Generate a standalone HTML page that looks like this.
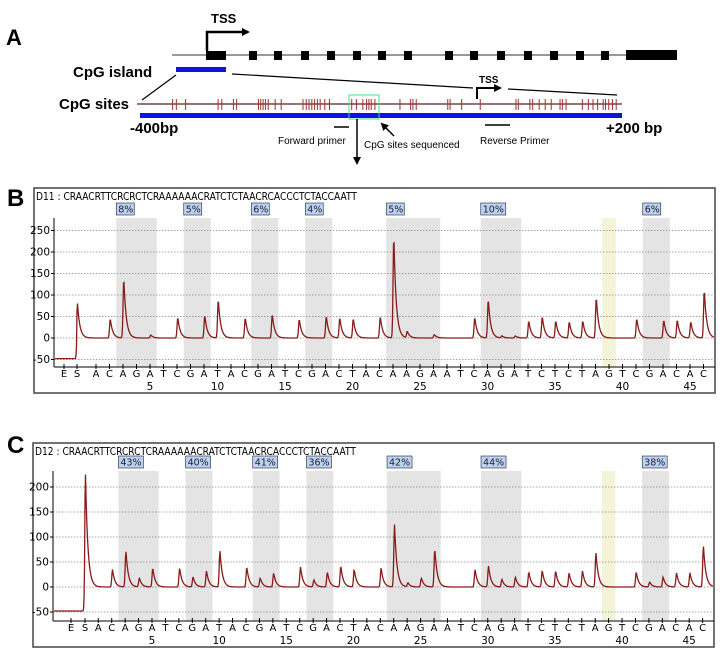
<!DOCTYPE html>
<html><head><meta charset="utf-8"><style>
body{margin:0;background:#fff;width:724px;height:652px;overflow:hidden}
svg{display:block}
</style></head><body>
<svg id="fig" width="724" height="652" viewBox="0 0 724 652" xmlns="http://www.w3.org/2000/svg" font-family="Liberation Sans, sans-serif">
<defs>
<marker id="ah" markerWidth="8" markerHeight="8" refX="6" refY="4" orient="auto" markerUnits="userSpaceOnUse"><path d="M0,0 L8,4 L0,8 z" fill="#000"/></marker>
</defs>
<g>
<text x="6" y="45" font-size="22" font-weight="bold">A</text>
<line x1="172" y1="55" x2="677" y2="55" stroke="#333" stroke-width="1"/>
<rect x="206" y="51" width="20" height="9" fill="#000"/>
<g id="exons"></g>
<rect x="626" y="50" width="51" height="10" fill="#000"/>
<polyline points="207,51 207,32 248,32" fill="none" stroke="#000" stroke-width="2.5" marker-end="url(#ah)"/>
<text x="211" y="23" font-size="13" font-weight="bold">TSS</text>
<text x="73" y="77" font-size="15" font-weight="bold">CpG island</text>
<rect x="176" y="67" width="50" height="5" fill="#1010e0"/>
<line x1="176" y1="75" x2="142" y2="100" stroke="#000" stroke-width="1.2"/>
<line x1="232" y1="74" x2="473" y2="88" stroke="#000" stroke-width="1.2"/>
<line x1="508" y1="89" x2="617" y2="95" stroke="#000" stroke-width="1.2"/>
<polyline points="477,99 477,88 500,88" fill="none" stroke="#000" stroke-width="2" marker-end="url(#ah)"/>
<text x="479" y="83" font-size="10" font-weight="bold">TSS</text>
<text x="59" y="109" font-size="15" font-weight="bold">CpG sites</text>
<line x1="137" y1="104" x2="622" y2="104" stroke="#5a2020" stroke-width="1.2"/>
<g id="sites"></g>
<rect x="140" y="113" width="482" height="5" fill="#1010e0"/>
<rect x="349" y="95" width="30" height="24" fill="none" stroke="#40e080" stroke-width="1"/>
<text x="130" y="133" font-size="15" font-weight="bold">-400bp</text>
<text x="606" y="133" font-size="15" font-weight="bold">+200 bp</text>
<line x1="334" y1="127" x2="349" y2="127" stroke="#000" stroke-width="1.5"/>
<line x1="485" y1="125" x2="510" y2="125" stroke="#000" stroke-width="1.5"/>
<text x="278" y="144" font-size="10">Forward primer</text>
<text x="364" y="148" font-size="10">CpG sites sequenced</text>
<text x="480" y="144" font-size="10">Reverse Primer</text>
<line x1="357" y1="119" x2="357" y2="163" stroke="#000" stroke-width="1.5" marker-end="url(#ah)"/>
<line x1="394" y1="136" x2="382" y2="124" stroke="#000" stroke-width="1.5" marker-end="url(#ah)"/>
</g>
<text x="7" y="206" font-size="24" font-weight="bold">B</text>
<text x="7" y="453" font-size="24" font-weight="bold">C</text>
<g id="chartB"></g>
<g id="chartC"></g>
</svg>
<script>
// Dispensation order (positions 1..46)
const dispensation = "ACAGATCGATACGATCGACTACAAGAATCAGATCTCTAGTCGACAC".split("");
const numberTicks = [5,10,15,20,25,30,35,40,45];
// Panel B data
const bPositions = [2,3,5,7,9,10,12,14,16,18,19,20,22,23,24,26,29,30,31,32,33,34,35,36,37,38,41,43,44,45,46];
const bHeights   = [45,140,7,48,53,90,47,55,44,51,47,45,50,240,15,8,48,90,5,5,40,50,40,38,40,95,45,42,42,38,112];
const bSPeak = 80;
const bTicks = [-50,0,50,100,150,200,250];
const bPercents = ["8%","5%","6%","4%","5%","10%","6%"];
// Panel C data
const cPositions = [2,3,4,5,7,8,9,10,12,13,14,16,17,18,19,20,22,23,24,25,26,29,30,31,32,33,34,35,36,37,38,41,42,43,44,45,46];
const cHeights   = [35,72,18,38,38,20,32,73,40,18,28,40,14,30,42,35,38,125,8,18,77,35,42,15,20,30,33,32,28,32,68,30,10,20,28,28,83];
const cSPeak = 225;
const cTicks = [-50,0,50,100,150,200];
const cPercents = ["43%","40%","41%","36%","42%","44%","38%"];
// shaded CpG ranges (start,end positions)
const bandStarts = [3,8,13,17,23,30,42];
const bandEnds   = [5,9,14,18,26,32,43];
const yellowPos = 39;
const exonCenters = [253,278,305,331,357,382,408,449,474,501,528,554,580,605];
const siteX = [372,380,400,470,478,503,510,557,562,567,572,578,593,606,653,660,666,672,678,684,690,700,710,758,768,782,790,795,800,808,862,885,890,897,965,970,995,1035,1112,1117,1142,1148,1162,1175,1188,1207,1212,1220,1255,1268,1278,1288,1300,1305,1312,1320,1328];

const NS="http://www.w3.org/2000/svg";
function mk(tag,attrs,parent){const e=document.createElementNS(NS,tag);for(const k in attrs)e.setAttribute(k,attrs[k]);parent.appendChild(e);return e;}

const ex=document.getElementById('exons');
exonCenters.forEach(c=>{const r=mk('rect',{x:c-4,y:51,width:8,height:9,fill:'#000'},ex);

});
const st=document.getElementById('sites');
siteX.forEach(z=>{const x=z*0.464;const l=mk('line',{x1:x,y1:99,x2:x,y2:110,stroke:'#a03030','stroke-width':1},st);

});

function drawChart(g,cfg,positions,heights,sPeak,ticks,percents,label){
  const px=p=>cfg.x5+(p-5)*cfg.dx;
  const py=v=>cfg.zeroY-v*cfg.k;
  const fr=mk('rect',{x:cfg.fx,y:cfg.fy,width:cfg.fw,height:cfg.fh,fill:'#fff',stroke:'#444','stroke-width':1.5},g);
  
  
  const hd=mk('text',{x:cfg.fx+2,y:cfg.fy+12,'font-size':10.5,'font-family':'DejaVu Sans, sans-serif',textLength:321,lengthAdjust:'spacingAndGlyphs'},g);
  hd.textContent=label+" : CRAACRTTCRCRCTCRAAAAAACRATCTCTAACRCACCCTCTACCAATT";
  
  
  bandStarts.forEach((s,i)=>{
    const x1=px(s)-cfg.dx/2,x2=px(bandEnds[i])+cfg.dx/2;
    const r=mk('rect',{x:x1,y:cfg.top,width:x2-x1,height:cfg.axisY-cfg.top,fill:'#e4e4e4'},g);
    
    
    const b=mk('rect',{x:x1,y:cfg.top-15,width:percents[i].length>2?25:18,height:12,fill:'#bcd2f0',stroke:'#223','stroke-width':0.6},g);
    
    
    const t=mk('text',{x:x1+2,y:cfg.top-5.5,'font-size':9.5,'font-family':'DejaVu Sans, sans-serif',fill:'#223'},g);
    t.textContent=percents[i];
    
    
  });
  const yb=mk('rect',{x:px(yellowPos)-cfg.dx/2,y:cfg.top,width:cfg.dx,height:cfg.axisY-cfg.top,fill:'#f4f4d8'},g);
  
  
  ticks.forEach(v=>{
    const y=py(v);
    const gl=mk('line',{x1:cfg.left,y1:y,x2:cfg.fx+cfg.fw,y2:y,stroke:'#888','stroke-width':0.7,'stroke-dasharray':'1.5,1.5'},g);
    
    
    mk('line',{x1:cfg.left-3,y1:y,x2:cfg.left,y2:y,stroke:'#000'},g);
    const t=mk('text',{x:cfg.left-4,y:y+3.5,'font-size':10.5,'text-anchor':'end','font-family':'DejaVu Sans, sans-serif'},g);
    t.textContent=v;
    
    
  });
  mk('line',{x1:cfg.left,y1:cfg.top,x2:cfg.left,y2:cfg.axisY,stroke:'#000','stroke-width':1},g);
  mk('line',{x1:cfg.left,y1:cfg.axisY,x2:cfg.fx+cfg.fw,y2:cfg.axisY,stroke:'#000','stroke-width':1},g);
  const letters=[["E",cfg.ex],["S",cfg.sx]];
  dispensation.forEach((c,i)=>letters.push([c,px(i+1)]));
  letters.forEach(([c,x])=>{
    mk('line',{x1:x,y1:cfg.axisY-3,x2:x,y2:cfg.axisY+2,stroke:'#000'},g);
    const t=mk('text',{x:x,y:cfg.axisY+10,'font-size':10,'text-anchor':'middle','font-family':'DejaVu Sans, sans-serif'},g);
    t.textContent=c;
    
    
  });
  numberTicks.forEach(n=>{
    const t=mk('text',{x:px(n),y:cfg.axisY+23,'font-size':10.5,'text-anchor':'middle','font-family':'DejaVu Sans, sans-serif'},g);
    t.textContent=n;
    
    
  });
  const peaks=positions.map((p,i)=>[px(p)+0.8,heights[i]]);
  peaks.push([cfg.sx+0.5,sPeak]);
  const shape=d=>d<0?Math.exp(-(d/1.0)*(d/1.0)):Math.exp(-d/2.4);
  let d="";
  for(let x=cfg.left+1;x<=cfg.fx+cfg.fw-1;x+=0.5){
    let v=x<cfg.sx?-48:0;
    peaks.forEach(([x0,h])=>{const dd=x-x0;if(dd>-5&&dd<20)v+=h*shape(dd);});
    d+=(d?"L":"M")+x.toFixed(1)+","+py(v).toFixed(1);
  }
  const tr=mk('path',{d:d,fill:'none',stroke:'#8b1a1a','stroke-width':1.3},g);
  
  
}
drawChart(document.getElementById('chartB'),{fx:34,fy:188,fw:681,fh:205,left:54,top:218,axisY:367,zeroY:338,k:0.43,x5:150,dx:13.5,ex:64,sx:77},bPositions,bHeights,bSPeak,bTicks,bPercents,"D11");
drawChart(document.getElementById('chartC'),{fx:33,fy:443,fw:681,fh:204,left:53,top:471,axisY:621,zeroY:587,k:0.5,x5:152,dx:13.43,ex:71,sx:85},cPositions,cHeights,cSPeak,cTicks,cPercents,"D12");
</script>
</body></html>
